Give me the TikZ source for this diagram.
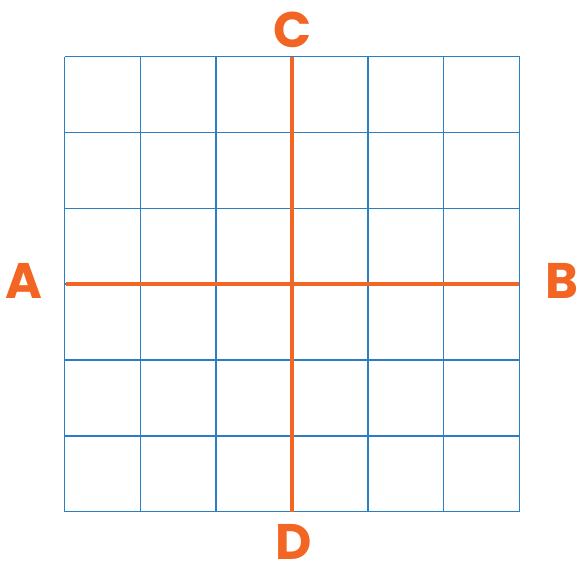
\documentclass[tikz,border=0pt]{standalone}
\usepackage{fontspec}
\setmainfont{Poppins}
\definecolor{gridblue}{HTML}{2B7EC1}
\definecolor{axisorange}{HTML}{F26522}
\tikzset{
  cellline/.style={draw=gridblue, line width=1.5pt},
  midline/.style={draw=axisorange, line width=4pt},
  letter/.style={text=axisorange, font=\fontsize{50}{50}\selectfont\bfseries, inner sep=0pt, anchor=base},
}
\begin{document}
\begin{tikzpicture}[x=1pt,y=-1pt]
  % Define frame
  \useasboundingbox (0,0) rectangle (577,565);

  % Draw grid
  \foreach \i in {0,...,6} {
    \draw[cellline] (64.5+75.83*\i,56.7) -- (64.5+75.83*\i,511.7);
    \draw[cellline] (64.5,56.7+75.83*\i) -- (519.5,56.7+75.83*\i);
  }

  % Define end points of the middle lines
  \coordinate (west) at (65.5,284.2); \coordinate (east) at (519,284.2);
  \coordinate (north) at (292,56.7); \coordinate (south) at (292,511.7);

  % Draw middle lines
  \draw[midline] (west) -- (east);
  \draw[midline] (north) -- (south);

  % Labels
  \node[letter] (A) at (23.5,298) {A}; \node[letter] (B) at (561.5,298) {B};
  \node[letter] (C) at (292.5,47) {C}; \node[letter] (D) at (293.5,559) {D};
\end{tikzpicture}
\end{document}
